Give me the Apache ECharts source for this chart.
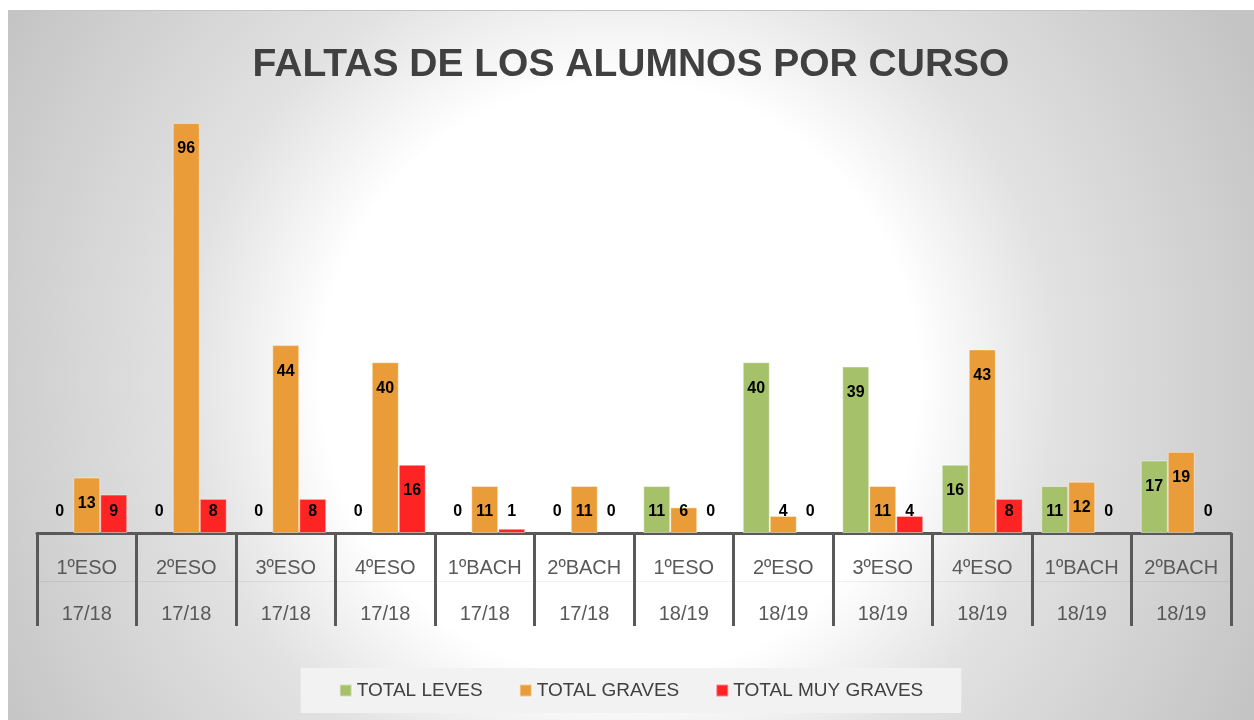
<!DOCTYPE html>
<html>
<head>
<meta charset="utf-8">
<script src="https://cdn.jsdelivr.net/npm/echarts@6/dist/echarts.min.js"></script>
<style>
html,body{margin:0;padding:0;background:#fff;width:1254px;height:720px;overflow:hidden;}
#c{position:absolute;left:8px;top:10px;width:1246px;height:709px;border-top:1px solid #c4c4c4;}
</style>
</head>
<body>
<div id="c"></div>
<script>
const cursos = ['1ºESO','2ºESO','3ºESO','4ºESO','1ºBACH','2ºBACH','1ºESO','2ºESO','3ºESO','4ºESO','1ºBACH','2ºBACH'];
const anios = ['17/18','17/18','17/18','17/18','17/18','17/18','18/19','18/19','18/19','18/19','18/19','18/19'];
const leves = [0,0,0,0,0,0,11,40,39,16,11,17];
const graves = [13,96,44,40,11,11,6,4,11,43,12,19];
const muyGraves = [9,8,8,16,1,0,0,0,4,8,0,0];
const seriesNames = ['TOTAL LEVES','TOTAL GRAVES','TOTAL MUY GRAVES'];
const colors = ['#a5c26b','#e99c37','#ff2424'];

const categories = cursos.map((c,i)=>c+'\n'+anios[i]);

function withLabels(arr){
  return arr.map(v=>({
    value:v,
    itemStyle: v === 0 ? {borderWidth:0} : undefined,
    label: v < 11 ? {position:'insideBottom', distance:13} : {position:'insideTop', distance:18}
  }));
}

const chart = echarts.init(document.getElementById('c'));
const lblStyle = {show:true, color:'#000', fontWeight:'bold', fontSize:16, fontFamily:'Liberation Sans'};
const mk = (name, data, color) => ({
  name, type:'bar', data: withLabels(data), barWidth:27, barGap:'0%',
  itemStyle:{color, borderColor:'rgba(255,255,255,0.45)', borderWidth:1},
  label: lblStyle
});

chart.setOption({
  backgroundColor:{type:'radial', x:0.491, y:0.52, r:1,
    colorStops:[{offset:0,color:'#ffffff'},{offset:0.42,color:'#ffffff'},{offset:0.615,color:'#e2e2e2'},{offset:0.95,color:'#c8c8c8'},{offset:1,color:'#c4c4c4'}]},
  animation:false,
  title:{text:'FALTAS DE LOS ALUMNOS POR CURSO', left:'center', top:30,
    textStyle:{fontFamily:'Liberation Sans', fontWeight:'bold', fontSize:39, color:'#404040'}},
  legend:{data:seriesNames, bottom:7, left:'center', icon:'rect', itemWidth:12, itemHeight:12, itemGap:36,
    backgroundColor:'#f2f2f2', padding:[13,38,13,38],
    textStyle:{fontFamily:'Liberation Sans', fontSize:19, color:'#404040'}},
  grid:{left:29, right:23, top:95, bottom:187, containLabel:false},
  xAxis:[{
    type:'category', data:categories,
    axisLine:{lineStyle:{color:'#595959', width:3}},
    axisTick:{show:true, length:93, lineStyle:{color:'#595959', width:3}},
    axisLabel:{interval:0, margin:12, lineHeight:46, fontFamily:'Liberation Sans', fontSize:20, color:'#595959'}
  },{
    type:'category', data:categories, position:'bottom', offset:48,
    axisLine:{lineStyle:{color:'rgba(0,0,0,0.06)', width:1}},
    axisTick:{show:false}, axisLabel:{show:false}
  }],
  yAxis:{type:'value', min:0, max:100, show:false, splitLine:{show:false}},
  series:[mk(seriesNames[0], leves, colors[0]), mk(seriesNames[1], graves, colors[1]), mk(seriesNames[2], muyGraves, colors[2])]
});
</script>
</body>
</html>
